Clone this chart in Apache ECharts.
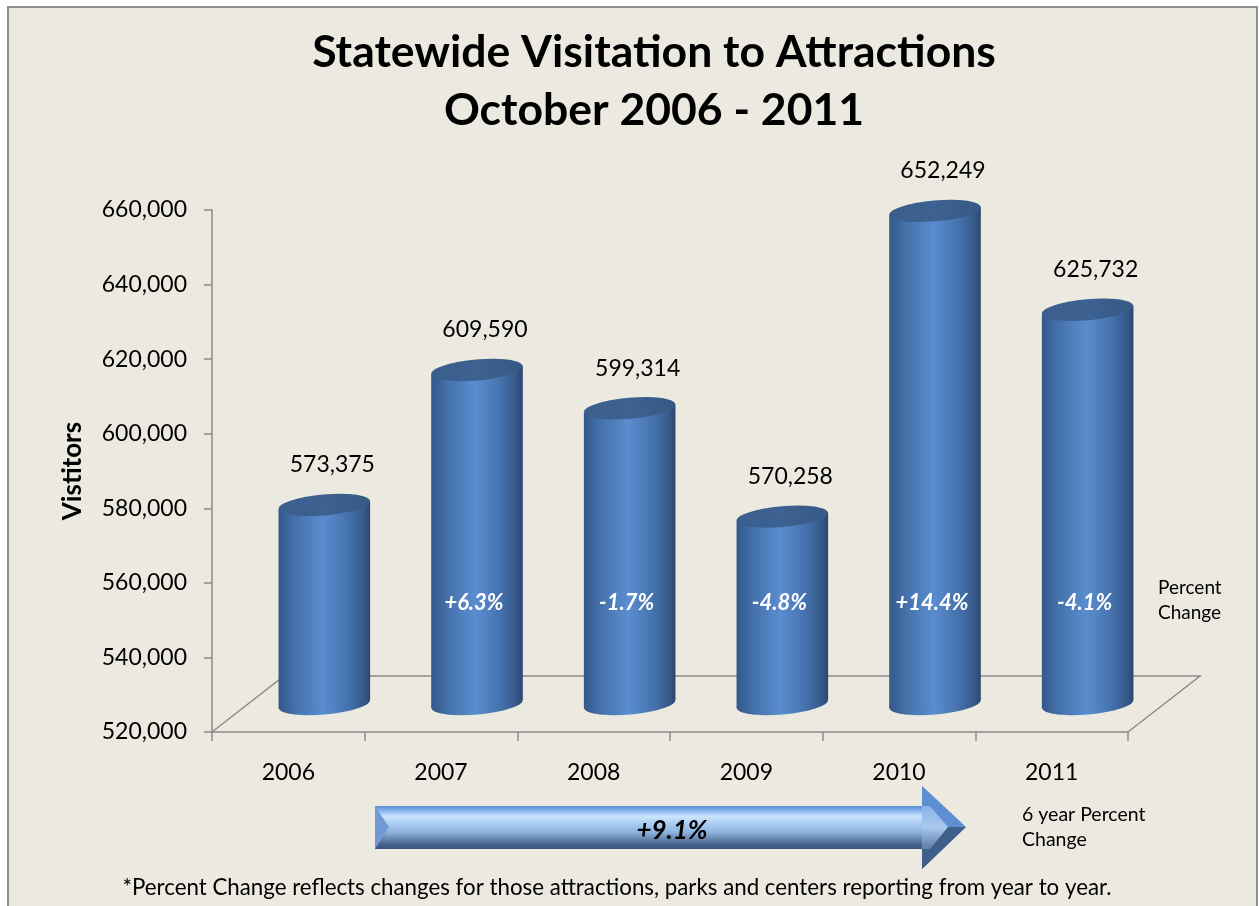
<!DOCTYPE html>
<html>
<head>
<meta charset="utf-8">
<script src="https://cdn.jsdelivr.net/npm/echarts@6/dist/echarts.min.js"></script>
<style>
html,body{margin:0;padding:0;background:#ffffff;}
#frame{position:absolute;left:7px;top:6px;width:1247px;height:920px;background:#ECEAE0;border:2px solid #8e8e8e;}
#chart{position:absolute;left:0;top:0;width:1259px;height:906px;}
</style>
</head>
<body>
<div id="frame"></div>
<div id="chart"></div>
<script>
// ---- data ----
const categories = ['2006', '2007', '2008', '2009', '2010', '2011'];
const visitors = [573375, 609590, 599314, 570258, 652249, 625732];
const pctChange = ['', '+6.3%', '-1.7%', '-4.8%', '+14.4%', '-4.1%'];
const yMin = 520000, yMax = 660000, yStep = 20000;
const totalChange = '+9.1%';
const titleLines = ['Statewide Visitation to Attractions', 'October 2006 - 2011'];

// ---- style constants ----
const FONT = 'Lato, "Open Sans", sans-serif';
const DX = 72, DY = 56;          // 3D depth offset of the back wall
const AXIS_COLOR = '#8a8a8a';

const chart = echarts.init(document.getElementById('chart'));

function fmt(v) { return v.toLocaleString('en-US'); }

function renderFloor(params, api) {
  const cs = params.coordSys;
  const x = cs.x, y = cs.y + cs.height, w = cs.width;
  return {
    type: 'polyline',
    shape: { points: [[x, y], [x + DX, y - DY], [x + w + DX, y - DY], [x + w, y]] },
    style: { stroke: AXIS_COLOR, lineWidth: 1.5, fill: null },
    silent: true
  };
}

function renderCylinder(params, api) {
  const i = api.value(0), v = api.value(1);
  const top = api.coord([i, v]);
  const base = api.coord([i, yMin]);
  const band = api.size([1, 0])[0];
  const rx = band * 0.3, ry = 10.5, tilt = 4;
  const cx = top[0] + DX / 2;
  const ty = top[1] - DY / 2;
  const by = base[1] - DY / 2;
  const rot = Math.atan2(tilt, rx);
  const bodyGrad = new echarts.graphic.LinearGradient(0, 0, 1, 0, [
    { offset: 0, color: '#34588a' },
    { offset: 0.18, color: '#4471aa' },
    { offset: 0.48, color: '#5a8dd0' },
    { offset: 0.75, color: '#4673ae' },
    { offset: 0.93, color: '#36598a' },
    { offset: 1, color: '#2a466e' }
  ]);
  const topGrad = new echarts.graphic.LinearGradient(0, 0, 1, 0, [
    { offset: 0, color: '#3a5e8d' },
    { offset: 0.5, color: '#3d6291' },
    { offset: 1, color: '#365985' }
  ]);
  const children = [
    {
      type: 'ellipse',
      shape: { cx: cx, cy: by, rx: rx, ry: ry },
      rotation: rot, originX: cx, originY: by,
      style: { fill: bodyGrad }
    },
    {
      type: 'polygon',
      shape: { points: [[cx - rx, ty + tilt], [cx + rx, ty - tilt], [cx + rx, by - tilt], [cx - rx, by + tilt]] },
      style: { fill: bodyGrad }
    },
    {
      type: 'ellipse',
      shape: { cx: cx, cy: ty, rx: rx, ry: ry },
      rotation: rot, originX: cx, originY: ty,
      style: { fill: topGrad }
    },
    {
      type: 'text',
      style: {
        text: fmt(v), x: cx + 8, y: ty - 40,
        align: 'center', verticalAlign: 'middle',
        font: '23px ' + FONT, fill: '#000000'
      }
    }
  ];
  const pct = pctChange[params.dataIndex];
  if (pct) {
    const py = api.coord([i, 547000])[1] - DY / 2;
    children.push({
      type: 'text',
      style: {
        text: pct, x: cx - 3, y: py,
        align: 'center', verticalAlign: 'middle',
        font: 'italic bold 22px ' + FONT, fill: '#ffffff'
      }
    });
  }
  return { type: 'group', children: children };
}

const arrowGrad = new echarts.graphic.LinearGradient(0, 0, 0, 1, [
  { offset: 0, color: '#5a8cd2' },
  { offset: 0.1, color: '#80b1ea' },
  { offset: 0.24, color: '#cbe6fc' },
  { offset: 0.42, color: '#a9cbf2' },
  { offset: 0.6, color: '#90b4e0' },
  { offset: 0.74, color: '#6d8db6' },
  { offset: 0.88, color: '#4a6790' },
  { offset: 1, color: '#3b5579' }
]);
const headGrad = new echarts.graphic.LinearGradient(0, 0, 0, 1, [
  { offset: 0, color: '#6a9ad8' },
  { offset: 0.3, color: '#8fb8ea' },
  { offset: 0.5, color: '#a9c9ee' },
  { offset: 0.7, color: '#6a8bb5' },
  { offset: 1, color: '#3c5880' }
]);

const option = {
  animation: false,
  grid: { left: 212, right: 131, top: 210, bottom: 174, containLabel: false },
  xAxis: {
    type: 'category',
    data: categories,
    boundaryGap: true,
    axisLine: { show: true, lineStyle: { color: AXIS_COLOR, width: 1.5 } },
    axisTick: { show: true, length: 9, interval: 0, lineStyle: { color: AXIS_COLOR, width: 1.5 } },
    axisLabel: { fontFamily: FONT, fontSize: 23, color: '#000000', margin: 29, interval: 0 },
    splitLine: { show: false }
  },
  yAxis: {
    type: 'value',
    min: yMin, max: yMax, interval: yStep,
    name: 'Vistitors',
    nameLocation: 'middle',
    nameRotate: 90,
    nameGap: 126,
    nameTextStyle: { fontFamily: FONT, fontWeight: 'bold', fontSize: 26, color: '#000000' },
    axisLine: { show: true, lineStyle: { color: AXIS_COLOR, width: 1.5 } },
    axisTick: { show: true, length: 8, lineStyle: { color: AXIS_COLOR, width: 1.5 } },
    axisLabel: { fontFamily: FONT, fontSize: 23, color: '#000000', margin: 25, formatter: fmt },
    splitLine: { show: false }
  },
  series: [
    {
      type: 'custom',
      name: 'floor',
      renderItem: renderFloor,
      data: [[0, yMin]],
      z: 1,
      silent: true,
      clip: false
    },
    {
      type: 'custom',
      name: 'Visitors',
      renderItem: renderCylinder,
      data: visitors.map((v, i) => [i, v]),
      encode: { x: 0, y: 1 },
      z: 3,
      clip: false
    }
  ],
  graphic: [
    {
      type: 'text',
      style: { text: titleLines[0], x: 654, y: 53, align: 'center', verticalAlign: 'middle', font: 'bold 44.5px ' + FONT, fill: '#000000' }
    },
    {
      type: 'text',
      style: { text: titleLines[1], x: 654, y: 111, align: 'center', verticalAlign: 'middle', font: 'bold 44.5px ' + FONT, fill: '#000000' }
    },
    {
      type: 'text', left: 1158, top: 575,
      style: { text: 'Percent\nChange', font: '19px ' + FONT, lineHeight: 25, fill: '#000000' }
    },
    {
      type: 'text', left: 1022, top: 802,
      style: { text: '6 year Percent\nChange', font: '19.5px ' + FONT, lineHeight: 25, fill: '#000000' }
    },
    {
      type: 'group',
      children: [
        { type: 'rect', shape: { x: 375, y: 806, width: 548, height: 43 }, style: { fill: arrowGrad } },
        { type: 'polygon', shape: { points: [[375, 806], [389, 827], [375, 849]] }, style: { fill: '#6f9ad6' } },
        { type: 'polygon', shape: { points: [[922, 786], [966, 827], [922, 869]] }, style: { fill: headGrad } },
        { type: 'polygon', shape: { points: [[922, 786], [966, 827], [948, 827], [930, 806], [922, 806]] }, style: { fill: '#5d8fd2' } },
        { type: 'polygon', shape: { points: [[922, 869], [966, 827], [948, 827], [930, 849], [922, 849]] }, style: { fill: '#3f5f8a' } },
        {
          type: 'text',
          style: { text: totalChange, x: 672, y: 831, align: 'center', verticalAlign: 'middle', font: 'italic bold 26px ' + FONT, fill: '#000000' }
        }
      ]
    },
    {
      type: 'text',
      style: {
        text: '*Percent Change reflects changes for those attractions, parks and centers reporting from year to year.',
        x: 617, y: 888, align: 'center', verticalAlign: 'middle',
        font: '22.3px ' + FONT, fill: '#000000'
      }
    }
  ]
};
chart.setOption(option);
</script>
</body>
</html>
